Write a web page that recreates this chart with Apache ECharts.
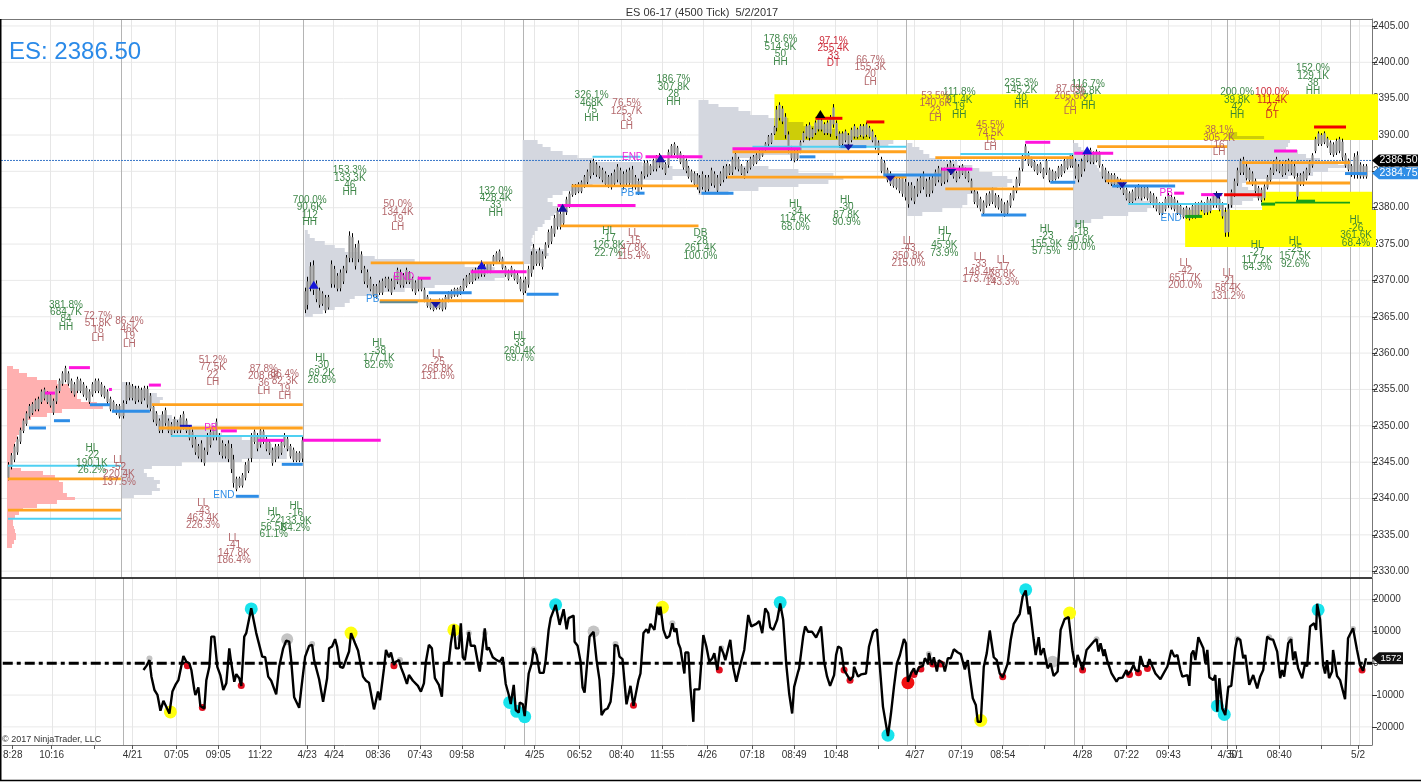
<!DOCTYPE html>
<html><head><meta charset="utf-8">
<style>html,body{margin:0;padding:0;background:#fff}#c{width:1421px;height:782px}</style>
<script src="https://cdn.jsdelivr.net/npm/echarts@6/dist/echarts.min.js"></script>
</head><body><div id="c"></div>
<script>
const FONT='"Liberation Sans",Arial,sans-serif';
const chartTitle='ES 06-17 (4500 Tick)  5/2/2017';
const symbolText='ES: 2386.50';
const copyrightText='© 2017 NinjaTrader, LLC';
const priceTicks=[2405,2400,2395,2390,2385,2380,2375,2370,2365,2360,2355,2350,2345,2340,2335,2330];
const indicatorTicks=[20000,10000,0,-10000,-20000];
const timeTicks=[[10,'8:28'],[49,'10:16'],[130,'4/21'],[174,'07:05'],[216,'09:05'],[258,'11:22'],[305,'4/23'],[332,'4/24'],[376,'08:36'],[418,'07:43'],[460,'09:58'],[533,'4/25'],[578,'06:52'],[620,'08:40'],[661,'11:55'],[706,'4/26'],[751,'07:18'],[793,'08:49'],[835,'10:48'],[914,'4/27'],[960,'07:19'],[1002,'08:54'],[1082,'4/28'],[1126,'07:22'],[1168,'09:43'],[1227,'4/30'],[1236,'5/1'],[1279,'08:40'],[1358,'5/2']];
const plainTicks=[92,503,877,1044,1211,1321];
const lightVerticals=[49,92,130,174,216,258,332,376,418,460,503,533,577,620,661,703,751,793,835,877,914,960,1002,1044,1083,1126,1168,1211,1235,1279,1321,1359];
const darkVerticals=[120.5,302.5,522,906,1073,1227,1350];

const bars=[
[7,2342.5,2345],[10,2344,2346.25],[13,2345,2347.5],[16,2346,2348.5],[19,2347.5,2349.75],[22,2349,2351],[25,2350,2352],[28,2351,2353],[31,2351.5,2353.25],[34,2352,2353.75],[37,2352,2354],[40,2353,2355],[43,2353.5,2355.25],[46,2353,2354.75],[49,2352.5,2354.5],[52,2351.5,2353.75],[55,2353,2355.5],[58,2354.5,2356.5],[61,2355.5,2357.5],[64,2356,2358.25],[67,2355.5,2357.5],[70,2354.5,2356.5],[73,2354,2356],[76,2354.5,2356.75],[79,2354.5,2356.5],[82,2354,2356],[85,2353.5,2355.5],[88,2353,2355],[91,2354,2356],[94,2354.5,2356.5],[97,2354.5,2356.5],[100,2354,2356],[103,2353.75,2355.5],[106,2353,2355],[109,2352,2354],[112,2352,2353.5],[115,2351.5,2353],[118,2351,2353],
[122,2351,2353.5],[125,2353,2356],[128,2353.5,2356],[131,2353.5,2355.75],[134,2353,2355.5],[137,2353.25,2355.5],[140,2353,2355.25],[143,2353.5,2355.5],[146,2352.5,2355.5],[149,2352,2354.5],[152,2350.5,2353],[155,2350,2352],[158,2349,2351],[161,2349,2352],[164,2350,2352.5],[167,2349,2351],[170,2348.5,2350.5],[173,2349,2351.25],[176,2349,2350.75],[179,2349,2351.5],[182,2349.5,2352],[185,2349,2351],[188,2348,2350],[191,2347,2349.5],[194,2346,2348.5],[197,2345.5,2347.5],[200,2345,2348],[203,2344.5,2347],[206,2346,2349],[209,2347,2349.5],[212,2348,2350],[215,2348,2351],[218,2346,2349],[221,2345.5,2348],[224,2345.5,2347.5],[227,2345,2348],[230,2343.5,2347.5],[232,2341.5,2346],[235,2341,2343],[238,2341.5,2343],[241,2341.5,2343.5],[244,2342.5,2345],[247,2343.5,2345.5],[250,2345,2349],[253,2347.5,2349.5],[256,2346.5,2349],[259,2347,2349.75],[262,2347.5,2349.5],[265,2346.5,2348.5],[268,2346,2348],[271,2344.5,2347],[274,2345,2347.5],[277,2345.5,2347.5],[280,2346,2348],[283,2347,2349],[286,2346.5,2348.5],[289,2345.5,2347.5],[292,2345,2347],[295,2345,2346.5],[298,2345,2346.5],[301,2345,2348.5],
[304,2365.5,2369],[306,2366,2370.5],[309,2368.5,2372.5],[312,2368,2372.75],[315,2367,2370],[318,2366.25,2369],[321,2366.5,2368.5],[324,2365.5,2368],[327,2366,2368],[330,2369,2372.75],[333,2369,2372],[336,2368.5,2371],[339,2368.5,2371.5],[342,2369.5,2372],[345,2371,2373.5],[348,2372.5,2376.75],[351,2372.5,2376.5],[354,2371.5,2375],[357,2372.5,2375.5],[360,2371,2374],[363,2369.5,2372],[366,2369,2371.5],[369,2368.5,2370.5],[372,2367.75,2369.5],[375,2367.5,2369.5],[378,2368,2370],[381,2368,2370.25],[384,2369,2370.5],[387,2368.5,2370.5],[390,2368,2370.25],[393,2368.75,2371],[396,2369.5,2371.75],[399,2369,2371.5],[402,2369,2371],[405,2369.5,2371.75],[408,2369.5,2371.25],[411,2368.5,2370.5],[414,2368,2370],[417,2368.5,2370.5],[420,2368.5,2370.25],[423,2367,2369],[426,2366.25,2368],[429,2366,2367.5],[432,2365.75,2367],[435,2366,2367.25],[438,2366,2367.5],[441,2365.75,2367.5],[444,2366,2368],[447,2367,2368.5],[450,2367.5,2368.75],[453,2367.75,2369],[456,2367.75,2369],[459,2368,2369.25],[462,2368.5,2370.25],[465,2369,2370.75],[468,2369.5,2371],[471,2369.5,2371.5],[474,2370,2371.75],[477,2370.25,2372],[480,2370.5,2372.75],[483,2370.5,2372.25],[486,2371,2372.5],[489,2371,2372.5],[492,2372,2373.5],[495,2372.25,2374],[498,2372.5,2374.25],[501,2371.5,2373.25],[504,2370.5,2372],[507,2370,2371.5],[510,2370.5,2372],[513,2370,2371.5],[516,2369.5,2371],[519,2368.5,2370.5],[522,2368,2370],
[524,2368.25,2370.5],[527,2369,2372],[530,2370.5,2374],[532,2371.5,2375],[535,2372,2374],[538,2372,2374.5],[541,2371.5,2374],[544,2373,2375.25],[547,2374.5,2377],[550,2375,2377.5],[553,2376,2379],[556,2377,2380],[559,2377,2379.5],[562,2377.5,2380],[565,2379,2381.5],[568,2380,2382.25],[571,2381.5,2383.25],[574,2381.75,2383.25],[577,2382,2383.5],[580,2382,2383.75],[583,2382.75,2384.5],[586,2383.25,2385.25],[589,2384,2386.5],[592,2384.5,2386.75],[595,2384.25,2386.25],[598,2384,2385.75],[601,2383.5,2385.5],[604,2383,2385],[607,2382.75,2384.5],[610,2382.5,2384.75],[613,2383,2385.25],[616,2383.5,2386],[619,2383,2385.5],[622,2382.5,2385],[625,2383,2385.25],[628,2383,2385.5],[631,2382.5,2385.75],[634,2382.5,2384.5],[637,2381.75,2384],[640,2382.5,2385],[643,2384,2386.5],[646,2384.25,2386.5],[649,2384.5,2386],[652,2385,2386.75],[655,2385,2387.25],[658,2385.5,2387.5],[661,2385.25,2387],[664,2384.5,2386.25],[667,2385.5,2388],[670,2387,2388.75],[673,2387.25,2389],[676,2386.75,2388.5],[679,2386,2387.75],[682,2385.25,2387.25],[685,2384.75,2386.75],[688,2384,2385.75],[691,2383.5,2385.25],[694,2383,2385],[697,2382.5,2384.75],
[699,2382,2384.5],[702,2382.5,2385],[705,2382,2384.5],[708,2382.25,2384.5],[711,2383,2385.5],[714,2382.75,2385],[717,2382,2384.5],[720,2383,2385],[723,2383.5,2385.75],[726,2384,2386],[729,2384.5,2386],[732,2384.5,2387],[735,2385.25,2387.75],[738,2385,2387],[741,2384.5,2386],[744,2384,2385.5],[747,2384.75,2386.5],[750,2385.25,2387],[753,2385.75,2387.25],[756,2386,2387.5],[759,2386.5,2388],[762,2387,2388.25],[765,2387.75,2389],[768,2388.5,2390],[771,2388.75,2390.25],[774,2390,2391.25],[776,2390.5,2394],[779,2392,2394.5],[782,2391.5,2394],[785,2389.5,2393],[788,2387.5,2390.5],[791,2386.5,2388.5],[794,2386.25,2388],[797,2386.5,2388],[800,2387.5,2389.25],[803,2389,2390.5],[806,2389.5,2391.5],[809,2389.25,2391.75],[812,2389.5,2391],[815,2390,2392],[818,2390.5,2392.5],[821,2390.5,2392.25],[824,2390,2391.75],[827,2390,2392],[830,2389.75,2392.75],[833,2391,2394.25],[836,2389.5,2392],[839,2388.25,2390.5],[842,2388.5,2390.5],[845,2389,2390.75],[848,2388.5,2390.25],[851,2389,2391],[854,2389.5,2391.5],[857,2389.5,2391],[860,2389.75,2391.5],[863,2389.5,2391.5],[866,2389.75,2391.75],[869,2389.5,2391.25],[872,2389,2390.75],[875,2388,2390],[878,2387.25,2389.25],[881,2384.75,2387],[884,2384.25,2386.5],[887,2383.5,2385.5],[890,2383,2385],[893,2382.75,2384.5],[896,2382.5,2384.25],[899,2382,2384.25],[902,2381.5,2384.5],[905,2381,2384],
[908,2380,2383.5],[911,2381,2383.5],[914,2380.5,2383],[917,2381.5,2384],[920,2382,2384.5],[923,2382.5,2385],[926,2381.5,2384],[929,2381.5,2384.25],[932,2382,2384.5],[935,2383,2385.25],[938,2383.5,2385.75],[941,2383,2385.5],[944,2383.25,2385.5],[947,2383.5,2386],[950,2384.5,2386.5],[953,2384,2386],[956,2383.5,2385],[959,2384,2385.75],[962,2384.5,2386],[965,2384,2385.5],[968,2383.5,2385],[971,2382,2384],[974,2380.5,2382.5],[977,2380,2382.25],[980,2379.5,2381.5],[983,2379,2381],[986,2380,2382],[989,2380.25,2382.25],[992,2380.5,2382.75],[995,2380,2382],[998,2379.75,2381.75],[1001,2379.25,2381.25],[1004,2378.75,2380.75],[1007,2379,2381],[1010,2380,2382],[1013,2381,2383],[1016,2382,2384.25],[1019,2383,2385.5],[1022,2385,2387.5],[1025,2386.5,2388.75],[1028,2385.75,2387.75],[1031,2385.5,2387],[1034,2385,2386.5],[1037,2384.5,2386],[1040,2384.75,2386.25],[1043,2384,2385.5],[1046,2384.5,2386.75],[1049,2383.5,2385.5],[1052,2383.5,2385.25],[1055,2383.75,2385],[1058,2384,2385.75],[1061,2384.25,2386],[1064,2384.75,2386.75],[1067,2385.25,2387],[1070,2385.5,2387.5],[1072,2385.5,2387.25],
[1075,2384,2386.75],[1078,2383.5,2386],[1081,2384.25,2386.75],[1084,2385,2387.5],[1087,2386.25,2388],[1090,2386,2388.25],[1093,2386,2387.75],[1096,2386.25,2388],[1099,2385.5,2387.75],[1102,2384,2386],[1105,2383.5,2385.5],[1108,2383.25,2385],[1111,2383,2384.75],[1114,2383,2384.75],[1117,2382.75,2384.25],[1120,2382.5,2384],[1123,2381.75,2383.5],[1126,2381,2382.75],[1129,2380.5,2382.25],[1132,2380.5,2382.5],[1135,2381,2383],[1138,2381.25,2383.25],[1141,2381,2383],[1144,2381.25,2383],[1147,2381,2383],[1150,2380.5,2382.25],[1153,2380,2382],[1156,2379.5,2381.5],[1159,2379,2380.75],[1162,2379,2380.75],[1165,2379.5,2381.5],[1168,2380,2382],[1171,2379.75,2381.75],[1174,2379.5,2381.5],[1177,2379,2381],[1180,2378.75,2380.5],[1183,2378.5,2380],[1186,2378.5,2380.25],[1189,2378.25,2380],[1192,2378.5,2380.5],[1195,2378.5,2380.75],[1198,2378.75,2380.75],[1201,2379.5,2381],[1204,2379,2380.75],[1207,2379,2381.5],[1210,2379.25,2381.25],[1213,2380,2382],[1216,2380,2382.25],[1219,2379.5,2381.5],[1222,2378.5,2380.75],[1225,2376,2380],[1228,2376,2380.5],
[1231,2380,2382.5],[1234,2381.5,2384],[1237,2383,2385.5],[1240,2384.5,2386.75],[1243,2384.5,2387],[1246,2383.75,2386],[1249,2383.5,2385.5],[1252,2383,2385],[1255,2382,2384],[1258,2381,2383],[1261,2380.75,2382.75],[1264,2381,2383.25],[1267,2382.5,2384.5],[1270,2383.5,2385.5],[1273,2384.5,2386.5],[1276,2385,2387],[1279,2384.75,2386.5],[1282,2384.25,2386],[1285,2384.5,2386.5],[1288,2385,2386.75],[1291,2384.5,2386.5],[1294,2384,2386],[1297,2381,2384.75],[1300,2383,2384.75],[1303,2383,2385],[1306,2383.75,2385.5],[1309,2384.5,2386.5],[1312,2385.5,2387.5],[1315,2387.5,2389.75],[1318,2388.5,2390.5],[1321,2388.5,2390.25],[1324,2388.75,2390.5],[1327,2388.25,2389.75],[1330,2387.25,2389.25],[1333,2387,2389],[1336,2387.25,2389.5],[1339,2387.5,2389.75],[1342,2386.5,2389.5],[1345,2385.5,2387.5],[1348,2385,2386.75],[1351,2384.25,2386],[1354,2384,2387.5],[1357,2384,2387.75],[1360,2384,2386.25],[1363,2384,2386],[1366,2384,2386]];

const indicator=[
[141,-2100],[144,-800],[147,1000],[149,-4200],[152,-8400],[155,-9900],[158,-14900],[161,-11800],[163,-13100],[167,-15800],[170,-8900],[173,-6800],[176,-5300],[181,2300],[184,500],[187,0],[189,-2100],[192,-8400],[193,-10000],[196,-7600],[198,-13400],[202,-14200],[204,-5300],[207,-1100],[209,8400],[212,8400],[215,-1100],[218,-3700],[221,-8400],[224,-6300],[227,4700],[229,0],[232,-5800],[234,-3400],[237,-4700],[239,-7100],[242,8400],[244,9500],[249,17300],[254,9500],[256,10000],[260,2100],[263,1900],[266,-4200],[269,-5500],[274,-9800],[277,-1100],[278,-800],[281,4700],[284,7100],[287,6800],[289,1000],[292,-10700],[294,-10700],[297,-14000],[299,-8400],[303,2100],[307,5500],[310,5800],[312,1000],[314,1300],[317,-5000],[318,-5000],[321,-12100],[325,-4700],[327,4700],[330,5300],[333,7600],[335,5300],[338,-1100],[341,-1400],[347,3700],[349,9500],[353,6300],[356,4000],[358,4000],[361,-4200],[364,-5500],[367,-6100],[372,-14500],[376,-8900],[378,-11600],[382,-1600],[384,4200],[387,1900],[389,3400],[392,-500],[394,500],[397,1000],[399,-1300],[402,-3700],[405,-6500],[407,-3700],[411,-5500],[413,-5000],[416,-7100],[419,-8900],[422,-6300],[424,500],[427,5800],[430,4700],[433,-4700],[437,-6800],[440,-10500],[442,-200],[447,500],[449,6300],[452,12100],[454,4700],[457,4700],[459,12600],[461,1900],[463,1000],[467,9900],[469,5500],[473,5500],[477,-1300],[478,-2600],[483,11000],[485,4200],[487,5000],[491,1900],[495,1000],[498,500],[501,1900],[504,-6500],[507,-9900],[509,-12800],[512,-6800],[514,-14700],[517,-15500],[518,-12400],[521,-12800],[523,-16600],[527,-3200],[530,0],[532,4700],[535,2600],[538,-3000],[542,-3000],
[544,1000],[547,10500],[549,14200],[554,18400],[558,12100],[562,17000],[565,10700],[567,14200],[572,15000],[573,6800],[576,5500],[579,500],[581,-7600],[583,-9200],[585,-2100],[588,8400],[592,9900],[595,1000],[598,-5300],[600,-16300],[603,-14700],[606,-14200],[609,-12100],[612,-3200],[613,5800],[616,5500],[618,2100],[621,1300],[625,-12900],[627,-12900],[629,-7100],[632,-13400],[637,-5300],[639,-3200],[642,9500],[645,10700],[647,9500],[649,12400],[653,10500],[656,17800],[658,15200],[659,17800],[662,10500],[665,7900],[668,8600],[671,12600],[673,9900],[675,11000],[677,6300],[679,4700],[683,-3200],[684,3400],[687,3400],[689,-7400],[692,-18400],[693,-8200],[698,-8200],[700,500],[702,8900],[705,5300],[708,500],[711,1600],[713,3200],[716,-2100],[719,5300],[722,3200],[724,1000],[729,7400],[732,-1300],[735,-5800],[739,-500],[743,4200],[747,15200],[750,11600],[755,12400],[758,13300],[761,9500],[764,17300],[767,15800],[769,11300],[772,10500],[776,13700],[779,18800],[782,13700],[785,0],[788,-9500],[791,-15800],[793,-7400],[797,-2600],[798,-1600],[802,8400],[804,11600],[807,9900],[811,9900],[815,8100],[817,7900],[820,11600],[823,500],[826,-4200],[829,-7100],[833,-3700],[835,2600],[837,5300],[840,4700],[843,-2100],[847,-4200],[849,-5300],[852,-4200],[853,-1100],[857,-4200],[860,-3500],[865,-3200],[868,5300],[872,9900],[876,10700],[879,-1600],[882,-13700],[887,-22900],[890,-15800],[893,-7400],[896,0],[899,2600],[903,7600],[905,6300],[907,-5800],[910,-3200],[913,-1600],[915,-3500],[918,-1300],[922,-800],[924,1600],[927,0],[928,3200],[931,-500],[933,1900],[936,-2600],[938,1000],[942,0],[944,-2600],[947,1600],[950,1600],[953,4400],[957,3400],[960,2900],
[964,-1900],[967,1000],[969,-4200],[972,-11000],[975,-13100],[977,-18400],[980,-18400],[983,-1100],[986,3200],[989,10300],[991,10000],[993,1900],[996,1000],[999,-3200],[1002,-4400],[1007,0],[1010,7400],[1013,12400],[1015,12600],[1019,15500],[1022,21000],[1025,22900],[1028,15400],[1029,17900],[1033,7400],[1035,2600],[1038,8200],[1040,2600],[1043,4700],[1047,-1600],[1050,0],[1053,-4000],[1057,-2600],[1060,10500],[1064,13900],[1068,14500],[1072,3700],[1075,-1300],[1077,2600],[1080,0],[1082,-2100],[1086,4200],[1088,4400],[1093,6800],[1096,7600],[1098,3700],[1100,6300],[1103,2300],[1104,4400],[1107,500],[1111,-3200],[1113,-3200],[1116,-5800],[1118,-4700],[1122,-4500],[1126,-2100],[1127,-3700],[1130,-2600],[1133,-500],[1135,-2100],[1138,-2600],[1140,2300],[1143,-800],[1147,-1000],[1149,1300],[1152,-1000],[1155,-3200],[1160,-5000],[1167,-1000],[1171,4200],[1174,2100],[1177,2600],[1180,-2100],[1182,-4200],[1187,-3700],[1189,-7100],[1191,2900],[1193,4000],[1195,1000],[1198,8200],[1200,8400],[1203,4700],[1205,0],[1207,4200],[1209,-4400],[1213,-5300],[1215,-3700],[1217,-15200],[1219,-4700],[1222,-14200],[1225,-16300],[1228,-7400],[1231,-7100],[1235,4700],[1237,7900],[1240,7400],[1243,1600],[1245,2600],[1249,-6800],[1253,-3700],[1257,-7900],[1260,-4200],[1263,-2100],[1267,8400],[1270,7600],[1273,7400],[1277,3700],[1280,-4700],[1282,-2100],[1284,-4200],[1288,6300],[1291,7600],[1293,1000],[1295,3700],[1298,-1600],[1302,-4700],[1305,0],[1307,-1000],[1310,11600],[1314,12600],[1316,10500],[1317,18700],[1320,13700],[1323,-500],[1325,-3200],[1327,1000],[1329,-4700],[1332,-2600],[1333,4200],[1335,4700],[1337,-4000],[1340,-5300],[1345,-11300],[1348,7900],[1353,11000],[1357,4200],[1360,-500],[1363,-2300],[1366,1600]];
const indicatorLast=1572;

const cyanDots=[[249,17100],[508,-12300],[515,-15100],[523,-16800],[554,18400],[779,19100],[887,-22600],[1025,23100],[1217,-13400],[1224,-16100],[1318,16800]];
const yellowDots=[[168,-15300],[349,9500],[452,10500],[661,17600],[980,-18000],[1069,15800]];
const grayBigDots=[[285,7600],[592,10000],[1052,500]];
const graySmallDots=[[147,1500],[310,6100],[398,1000],[458,8000],[467,9500],[483,9500],[532,4400],[614,6100],[671,12600],[720,4700],[928,2900],[1096,7600],[1237,7700],[1269,8200],[1290,7600],[1353,10800]];
const redDots=[[185,-800],[200,-13900],[239,-7000],[392,-800],[632,-13200],[718,-2100],[843,-2100],[849,-5300],[913,-3500],[920,-1800],[932,-200],[940,-200],[1002,-4200],[1082,-2100],[1129,-3500],[1138,-3000],[1147,-1600],[1362,-2100]];
const redBigDots=[[907,-6100]];

const profileStep=0.5;
const pinkProfile=[6,2358.25,[6,12,20,30,50,62,68,70,70,74,90,96,55,40,24,20,18,16,12,10,9,8,7,6,5,5,4,4,14,36,48,52,56,56,56,60,68,50,30,16,12,8,6,6,7,8,9,9,7,5]];
const grayProfiles=[
[121,2356,[8,15,25,35,41,38,30,28,35,50,60,62,68,90,100,120,130,150,170,165,165,120,60,30,22,25,32,38,35,38,30,12]],
[304,2376.9,[3,5,10,20,30,40,55,70,110,160,190,200,200,190,160,130,100,70,50,45,40,30,18,8]],
[522,2389.3,[15,20,28,40,55,70,120,150,165,175,150,100,70,55,40,30,25,30,35,35,32,28,22,20,15,12,10,9,10,8,22,26,20,12]],
[698,2394.8,[10,20,40,52,70,90,105,125,140,150,170,195,190,150,100,60,40,30,70,100,135,145,130,100,60,30]],
[907,2388.9,[5,12,16,22,35,50,65,72,85,100,105,100,90,70,60,60,60,55,35,15]],
[1073,2388.9,[5,8,12,16,20,22,24,26,28,32,36,42,48,52,60,70,76,78,74,55,30,18,6]],
[1228,2390.4,[9,36,62,60,58,70,78,92,110,122,100,85,60,18,14,20,30,34,25,14,5]]];

const yellowZones=[[774,1378,2395.6,2389.3],[1185,1376,2379.7,2374.6],[1262,1372,2382.2,2379.7]];

const orangeLevels=[[7,120,2342.7],[7,120,2338.4],[151,302,2352.9],[158,302,2349.7],[370,523,2372.4],[379,523,2367.2],[571,698,2383],[560,698,2377.5],[732,906,2387.7],[727,906,2384.2],[935,1073,2386.9],[945,1073,2382.6],[1097,1227,2388.4],[1106,1227,2383.7],[1242,1350,2386.2],[1246,1350,2383.4]];
const cyanLevels=[[7,120,2344.5],[7,120,2337.2],[170,302,2348.6],[592,640,2387],[752,906,2388.4],[960,1073,2387.4],[1128,1227,2380.5]];
const blueLevels=[[28,45,2349.7],[53,69,2350.7],[89,109,2352.9],[111,149,2352],[235,258,2340.3],[281,302,2344.7],[428,471,2368.3],[526,558,2368.1],[635,644,2382],[701,733,2382],[799,815,2387],[840,866,2388.4],[883,941,2384.5],[981,1026,2379],[1050,1075,2383.5],[1112,1175,2383],[1345,1367,2384.7]];
const magentaLevels=[[68,89,2358],[44,54,2354.5],[108,111,2355],[148,160,2355.6],[220,236,2349.3],[257,283,2348],[302,380,2348],[417,430,2370.3],[470,526,2371.2],[557,635,2380.3],[645,702,2387],[732,800,2388.1],[941,972,2385.3],[1025,1050,2389],[1074,1113,2387.5],[1174,1184,2382],[1201,1222,2381.8],[1274,1297,2387.8]];
const redLevels=[[815,842,2392.3],[866,884,2391.8],[1224,1262,2381.8],[1314,1346,2391.1]];
const greenLevels=[[1185,1202,2378.8],[1261,1275,2380.5],[1296,1315,2380.9]];
const thinGreenLevels=[[1275,1350,2380.7]];
const steelLevels=[[379,417,2367]];
const navyLevels=[[179,191,2350]];
const lastPrice=2386.5;
const secondPrice=2384.75;

const upTriangles=[[313,2369.4,'#1515d8'],[481,2372.1,'#1515d8'],[562,2380,'#1515a0'],[660,2386.8,'#1515a0'],[820,2392.9,'#000'],[1087,2387.9,'#1515d8']];
const downTriangles=[[435,2366.6,'#1515a0'],[848,2388.3,'#1515a0'],[890,2384,'#1515a0'],[951,2384.9,'#1515a0'],[1122,2383.1,'#1515a0'],[1218,2381.6,'#1515a0']];

const blueWords=[[223,2340.5,'END'],[372,2367.4,'PB'],[627,2382,'PB'],[1171,2378.6,'END']];
const magentaWords=[[210,2349.6,'PB'],[403,2370.5,'END'],[632,2387,'END'],[1166,2382,'PB']];

const greenNotes=[
[65,2365.1,'381.8%\n684.7K\n84\nHH'],[309,2379.5,'700.0%\n90.6K\n112\nHH'],[349,2383.6,'153.3%\n133.3K\n46\nHH'],[321,2357.8,'HL\n-30\n69.2K\n26.8%'],[378,2359.8,'HL\n-38\n177.1K\n82.6%'],[91,2345.4,'HL\n-22\n190.1K\n26.2%'],[273,2336.6,'HL\n-22\n56.5K\n61.1%'],[295,2337.4,'HL\n-16\n133.9K\n84.2%'],[495,2380.8,'132.0%\n428.4K\n33\nHH'],[591,2393.9,'326.1%\n468K\n75\nHH'],[673,2396.1,'186.7%\n307.8K\n28\nHH'],[780,2401.6,'178.6%\n514.9K\n50\nHH'],[959,2394.3,'111.8%\n91.4K\n19\nHH'],[1021,2395.6,'235.3%\n145.2K\n40\nHH'],[1088,2395.5,'116.7%\n36.8K\n21\nHH'],[1237,2394.3,'200.0%\n39.8K\n42\nHH'],[1313,2397.6,'152.0%\n129.1K\n38\nHH'],[795,2378.9,'HL\n-34\n114.6K\n68.0%'],[846,2379.5,'HL\n-30\n87.8K\n90.9%'],[608,2375.3,'HL\n-17\n126.8K\n22.7%'],[700,2374.9,'DB\n-28\n261.4K\n100.0%'],[944,2375.3,'HL\n-17\n45.9K\n73.9%'],[519,2360.8,'HL\n33\n260.4K\n69.7%'],[1046,2375.5,'HL\n-23\n155.9K\n57.5%'],[1081,2376.1,'HL\n-18\n40.6K\n90.0%'],[1257,2373.3,'HL\n-27\n117.2K\n64.3%'],[1295,2373.8,'HL\n-25\n157.5K\n92.6%'],[1356,2376.7,'HL\n-26\n361.6K\n68.4%']];
const redNotes=[
[97,2363.6,'72.7%\n51.8K\n16\nLH'],[128.5,2362.8,'86.4%\n46K\n19\nLH'],[397,2378.9,'50.0%\n134.4K\n19\nLH'],[212,2357.5,'51.2%\n77.5K\n22\nLH'],[263,2356.3,'87.8%\n208.6K\n36\nLH'],[284,2355.6,'86.4%\n82.3K\n19\nLH'],[437,2358.3,'LL\n-25\n268.8K\n131.6%'],[118,2343.8,'LL\n-52\n220.4K\n137.5%'],[202,2337.8,'LL\n-43\n463.4K\n226.3%'],[233,2333,'LL\n-41\n147.8K\n186.4%'],[626,2392.8,'76.5%\n125.7K\n13\nLH'],[870,2398.8,'66.7%\n155.3K\n20\nLH'],[935,2393.8,'53.5%\n140.6K\n23\nLH'],[1070,2394.8,'87.0%\n205.6K\n20\nLH'],[990,2389.8,'45.5%\n74.5K\n15\nLH'],[1219,2389.1,'38.1%\n305.2K\n16\nLH'],[633,2374.9,'LL\n-15\n47.8K\n115.4%'],[908,2373.9,'LL\n-43\n350.8K\n215.0%'],[979,2371.7,'LL\n-33\n148.4K\n173.7%'],[1002,2371.3,'LL\n-17\n78.8K\n143.3%'],[1185,2370.8,'LL\n-42\n651.7K\n200.0%'],[1228,2369.4,'LL\n-21\n58.4K\n131.2%']];
const doubleTopNotes=[[833,2401.4,'97.1%\n255.4K\n33\nDT'],[1272,2394.3,'100.0%\n111.4K\n27\nDT']];

const PANE_RIGHT=1372, PRICE_MIN=2329.2, PRICE_MAX=2405.96, IND_MIN=-25700, IND_MAX=26830;

const chart=echarts.init(document.getElementById('c'),null,{renderer:'canvas',width:1421,height:782});

function cs(name,arr,draw,pane,z){
  return {type:'custom',name,xAxisIndex:pane,yAxisIndex:pane,z,silent:true,clip:false,animation:false,
    data:arr.map(d=>[d[0],typeof d[1]==='number'?d[1]:0]),
    renderItem:(p,api)=>draw(arr[p.dataIndex],api)};
}
const hLine=(x1,x2,v,color,w,api,dash)=>{
  const a=api.coord([x1,v]),b=api.coord([x2,v]);
  return {type:'line',shape:{x1:a[0],y1:a[1],x2:b[0],y2:b[1]},style:{stroke:color,lineWidth:w,lineDash:dash||null}};
};
const vLine=(x,lo,hi,color,w,api)=>{
  const a=api.coord([x,lo]),b=api.coord([x,hi]);
  const px=Math.round(a[0])+0.5;
  return {type:'line',shape:{x1:px,y1:a[1],x2:px,y2:b[1]},style:{stroke:color,lineWidth:w}};
};
const levels=(name,arr,color,w,z)=>cs(name,arr,(d,api)=>hLine(d[0],d[1],d[2],color,w,api),0,z);
const notes=(name,arr,color)=>cs(name,arr,(d,api)=>{
  const c=api.coord([d[0],d[1]]);
  return {type:'text',style:{x:c[0],y:c[1],text:d[2],fill:color,font:'10px '+FONT,align:'center',verticalAlign:'middle',lineHeight:7.4,opacity:0.92}};
},0,30);
const words=(name,arr,color)=>cs(name,arr,(d,api)=>{
  const c=api.coord([d[0],d[1]]);
  return {type:'text',style:{x:c[0],y:c[1],text:d[2],fill:color,font:'10px '+FONT,align:'center',verticalAlign:'middle'}};
},0,28);
const dots=(name,arr,color,size,z)=>({type:'scatter',name,xAxisIndex:1,yAxisIndex:1,z,silent:true,animation:false,symbol:'circle',symbolSize:size,itemStyle:{color,opacity:1},data:arr});
const tag=(name,arr,pane,bg,font,w)=>cs(name,arr,(d,api)=>{
  const c=api.coord([PANE_RIGHT,d[1]]);
  const h=12;
  return {type:'group',children:[
    {type:'polygon',shape:{points:[[c[0],c[1]],[c[0]+7,c[1]-h/2],[c[0]+7+w,c[1]-h/2],[c[0]+7+w,c[1]+h/2],[c[0]+7,c[1]+h/2]]},style:{fill:bg}},
    {type:'text',style:{x:c[0]+7+w/2,y:c[1],text:d[2],fill:'#fff',font:font+'px '+FONT,align:'center',verticalAlign:'middle'}}
  ]};
},pane,40);

const profileRows=[];
grayProfiles.forEach(p=>p[2].forEach((w,i)=>profileRows.push([p[0],p[1]-i*profileStep,w])));
const pinkRows=pinkProfile[2].map((w,i)=>[pinkProfile[0],pinkProfile[1]-i*profileStep,w]);
const zoneOverlapRows=[];
profileRows.forEach(r=>yellowZones.forEach(z=>{
  const mid=r[1]-profileStep/2, from=Math.max(r[0],z[0]), to=Math.min(r[0]+r[2],z[1]);
  if(mid<z[2]&&mid>z[3]&&to>from) zoneOverlapRows.push([from,r[1],to-from]);
}));
const rowDraw=color=>(d,api)=>{
  const a=api.coord([d[0],d[1]]),b=api.coord([d[0]+d[2],d[1]-profileStep]);
  const y1=Math.round(a[1]),y2=Math.round(b[1]);
  return {type:'rect',shape:{x:a[0],y:y1,width:b[0]-a[0],height:y2-y1},style:{fill:color}};
};

const series=[
  cs('hgrid',priceTicks.map(v=>[0,v]),(d,api)=>hLine(0,PANE_RIGHT,d[1],'#e9e9e9',1,api),0,1),
  cs('vlight',lightVerticals.map(x=>[x]),(d,api)=>vLine(d[0],PRICE_MIN,PRICE_MAX,'#e6e6e6',1,api),0,1),
  cs('vdark',darkVerticals.map(x=>[x]),(d,api)=>vLine(d[0],PRICE_MIN,PRICE_MAX,'#b4b4b4',1,api),0,1),
  cs('hgrid2',indicatorTicks.map(v=>[0,v]),(d,api)=>hLine(0,PANE_RIGHT,d[1],'#e9e9e9',1,api),1,1),
  cs('vlight2',lightVerticals.map(x=>[x]),(d,api)=>vLine(d[0],IND_MIN,IND_MAX,'#e6e6e6',1,api),1,1),
  cs('vdark2',darkVerticals.map(x=>[x]),(d,api)=>vLine(d[0],IND_MIN,IND_MAX,'#b4b4b4',1,api),1,1),
  cs('pink profile',pinkRows,rowDraw('#ffb0b0'),0,3),
  cs('volume profile',profileRows,rowDraw('#d4d7df'),0,3),
  cs('lastPriceLine',[[0,lastPrice]],(d,api)=>hLine(0,PANE_RIGHT,d[1],'#3a78c8',1,api,[2,1]),0,4),
  cs('yellow zones',yellowZones,(d,api)=>{
    const a=api.coord([d[0],d[2]]),b=api.coord([d[1],d[3]]);
    return {type:'rect',shape:{x:a[0],y:a[1],width:b[0]-a[0],height:b[1]-a[1]},style:{fill:'#ffff00'}};
  },0,5),
  cs('profile under zone',zoneOverlapRows,rowDraw('#cdcd08'),0,6),
  cs('bars',bars,(d,api)=>{
    const t=api.coord([d[0],d[2]]),l=api.coord([d[0],d[1]]);
    const px=Math.round(t[0])+0.5, h=l[1]-t[1];
    return {type:'group',children:[
      {type:'line',shape:{x1:px,y1:t[1],x2:px,y2:l[1]},style:{stroke:'#000',lineWidth:1}},
      {type:'rect',shape:{x:px-1.5,y:t[1]+h*0.14,width:3,height:h*0.72},style:{fill:'#a8a8a8',opacity:0.82}}
    ]};
  },0,10),
  levels('orange',orangeLevels,'#ffa21f',2.8,20),
  levels('cyan levels',cyanLevels,'#4fd0f2',2,20),
  levels('steel',steelLevels,'#5f8a94',2,20),
  levels('navy',navyLevels,'#1515c0',2,20),
  levels('blue',blueLevels,'#2e8de6',3,21),
  levels('magenta',magentaLevels,'#ff14dc',3,21),
  levels('red levels',redLevels,'#f00000',3,21),
  levels('green',greenLevels,'#18a018',3,21),
  levels('greenThin',thinGreenLevels,'#18a018',1.8,21),
  cs('up',upTriangles,(d,api)=>{const c=api.coord([d[0],d[1]]);
    return {type:'polygon',shape:{points:[[c[0]-5,c[1]+4],[c[0]+5,c[1]+4],[c[0],c[1]-4]]},style:{fill:d[2]}};},0,22),
  cs('down',downTriangles,(d,api)=>{const c=api.coord([d[0],d[1]]);
    return {type:'polygon',shape:{points:[[c[0]-5,c[1]-3],[c[0]+5,c[1]-3],[c[0],c[1]+3]]},style:{fill:d[2]}};},0,22),
  words('blueWords',blueWords,'#2e8de6'),
  words('magentaWords',magentaWords,'#ee22d8'),
  notes('greenNotes',greenNotes,'#2f7d3a'),
  notes('redNotes',redNotes,'#ad5a5e'),
  notes('dtNotes',doubleTopNotes,'#c81828'),
  tag('lastTag',[[PANE_RIGHT,lastPrice,lastPrice.toFixed(2)]],0,'#000',10.5,39),
  tag('secondTag',[[PANE_RIGHT,secondPrice,secondPrice.toFixed(2)]],0,'#2e8de6',10.5,39),
  cs('zero',[[0,0]],(d,api)=>hLine(0,PANE_RIGHT,0,'#000',3,api,[10,4,4,4]),1,5),
  dots('cyan dots',cyanDots,'#19e3ec',13,6),
  dots('yellow dots',yellowDots,'#ffff10',13,6),
  dots('grayBig',grayBigDots,'#c4c4c4',12,6),
  dots('graySmall',graySmallDots,'#c4c4c4',6,6),
  dots('red dots',redDots,'#e01020',7,6),
  dots('redBig',redBigDots,'#f01010',13,6),
  {type:'line',name:'indicator',xAxisIndex:1,yAxisIndex:1,z:7,silent:true,animation:false,symbol:'none',lineStyle:{color:'#000',width:2.4},data:indicator},
  tag('indTag',[[PANE_RIGHT,indicatorLast,String(indicatorLast)]],1,'#111',9.5,24)
];

const xBase={type:'value',min:0,max:PANE_RIGHT,splitLine:{show:false}};
const labelMap=Object.fromEntries(timeTicks.map(t=>[t[0],t[1]]));

chart.setOption({
  animation:false,
  backgroundColor:'#fff',
  title:{text:chartTitle,left:697,top:2,textAlign:'center',textStyle:{fontFamily:FONT,fontSize:11,fontWeight:'normal',color:'#333'}},
  grid:[{left:1,top:19,width:PANE_RIGHT-1,height:558,containLabel:false},{left:1,top:578,width:PANE_RIGHT-1,height:167,containLabel:false}],
  xAxis:[
    {...xBase,gridIndex:0,axisLine:{show:false},axisTick:{show:false},axisLabel:{show:false}},
    {...xBase,gridIndex:1,axisLine:{show:true,onZero:false,lineStyle:{color:'#777'}},
      axisTick:{show:true,length:4,lineStyle:{color:'#555'},customValues:timeTicks.map(t=>t[0]).concat(plainTicks)},
      axisLabel:{show:true,margin:5,color:'#333',fontFamily:FONT,fontSize:10,hideOverlap:false,customValues:timeTicks.map(t=>t[0]),formatter:v=>labelMap[v]||''}}
  ],
  yAxis:[
    {type:'value',gridIndex:0,position:'right',min:PRICE_MIN,max:PRICE_MAX,splitLine:{show:false},
      axisLine:{show:true,onZero:false,lineStyle:{color:'#777'}},
      axisTick:{show:true,length:5,lineStyle:{color:'#333'},customValues:priceTicks},
      axisLabel:{show:true,margin:1,color:'#333',fontFamily:FONT,fontSize:10,customValues:priceTicks,formatter:v=>v.toFixed(2)}},
    {type:'value',gridIndex:1,position:'right',min:IND_MIN,max:IND_MAX,splitLine:{show:false},
      axisLine:{show:true,onZero:false,lineStyle:{color:'#777'}},
      axisTick:{show:true,length:5,lineStyle:{color:'#333'},customValues:indicatorTicks},
      axisLabel:{show:true,margin:1,color:'#333',fontFamily:FONT,fontSize:10,customValues:indicatorTicks,formatter:v=>String(v)}}
  ],
  graphic:[
    {type:'text',left:9,top:40,z:50,style:{text:symbolText,fill:'#2b8ae8',font:'24px '+FONT}},
    {type:'text',left:2,top:735,z:50,style:{text:copyrightText,fill:'#333',font:'9px '+FONT}},
    {type:'line',z:50,shape:{x1:0,y1:19.5,x2:1372,y2:19.5},style:{stroke:'#777',lineWidth:1}},
    {type:'line',z:50,shape:{x1:0,y1:578,x2:1372,y2:578},style:{stroke:'#000',lineWidth:1.5}},
    {type:'line',z:50,shape:{x1:0,y1:780.5,x2:1421,y2:780.5},style:{stroke:'#000',lineWidth:1.5}},
    {type:'line',z:50,shape:{x1:0.5,y1:19,x2:0.5,y2:781},style:{stroke:'#000',lineWidth:2}}
  ],
  series
});
</script></body></html>
